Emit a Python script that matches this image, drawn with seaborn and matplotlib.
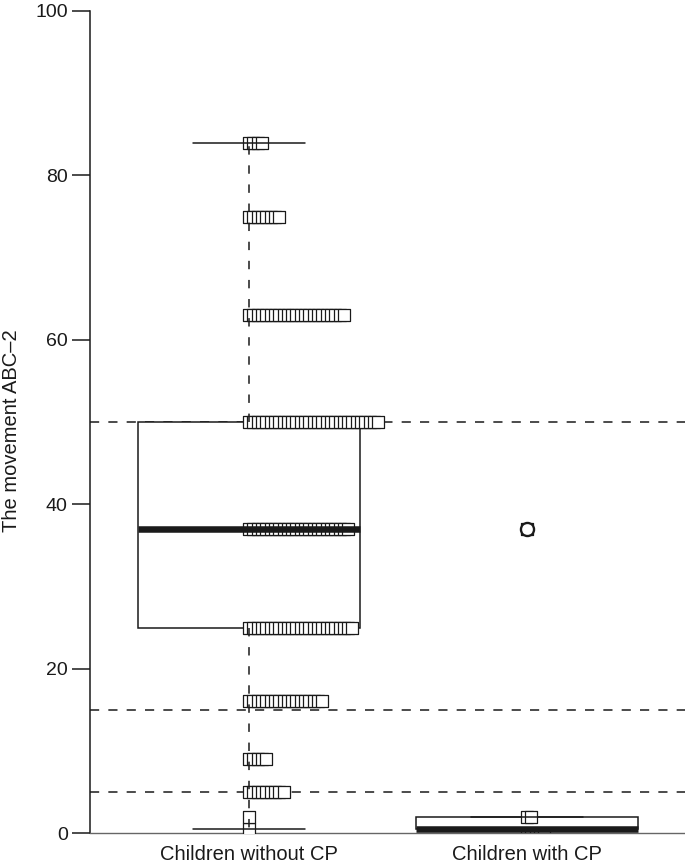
import numpy as np
import pandas as pd
import matplotlib
matplotlib.use("Agg")
import matplotlib.pyplot as plt
import seaborn as sns

# ---- data ----
groups = ["Children without CP", "Children with CP"]
without_cp_scores = [0.5, 2, 5, 9, 16, 25, 37, 50, 63, 75, 84]
without_cp_counts = [1, 1, 9, 5, 18, 25, 24, 31, 23, 8, 4]
with_cp_scores = [0.5, 2, 37]
with_cp_counts = [5, 2, 1]
reference_lines = [5, 15, 50]
y_ticks = [0, 20, 40, 60, 80, 100]
y_label = "The movement ABC\u20132"

sns.set_theme(style="white")
plt.rcParams['font.family'] = ['Liberation Sans', 'DejaVu Sans']

rows = []
for code, (scores, counts) in enumerate([(without_cp_scores, without_cp_counts),
                                          (with_cp_scores, with_cp_counts)]):
    for s, c in zip(scores, counts):
        rows += [(code, s)] * c
df = pd.DataFrame(rows, columns=["pos", "score"])
df["rank"] = df.groupby(["pos", "score"]).cumcount()
step = 0.0155  # horizontal stacking offset (stripchart "stack")
df["xpos"] = df["pos"] + df["rank"] * step

ink = "#1a1a1a"
fig = plt.figure(figsize=(6.85, 8.64), dpi=100)
ax = fig.add_axes([90 / 685, 1 - 833 / 864, 595 / 685, 822 / 864])

for yv in reference_lines:
    ax.axhline(yv, color=ink, lw=1.1, ls=(0, (6, 6)), zorder=0.5)

sns.boxplot(data=df, x="pos", y="score", native_scale=True, orient="v",
            width=0.8, whis=1.5, color="white", linecolor=ink, linewidth=1.1,
            ax=ax,
            medianprops=dict(color=ink, linewidth=4.7, solid_capstyle="butt", zorder=4),
            whiskerprops=dict(color=ink, linewidth=1.1, linestyle=(0, (5.5, 7)), zorder=3.5),
            capprops=dict(color=ink, linewidth=1.1, zorder=3.5),
            flierprops=dict(marker="o", markersize=9.5, markerfacecolor="none",
                            markeredgecolor=ink, markeredgewidth=1.6, zorder=5))

hidden = (df["pos"] == 1) & (df["score"] < 1)
sns.scatterplot(data=df[~hidden], x="xpos", y="score", marker="s", s=72,
                color="white", edgecolor=ink, linewidth=0.9, ax=ax,
                zorder=3, legend=False)
sns.scatterplot(data=df[hidden], x="xpos", y="score", marker="s", s=72,
                color="white", edgecolor=ink, linewidth=0.9, ax=ax,
                zorder=1.5, legend=False)

ax.set_xlim(-0.572, 1.568)
ax.set_ylim(0, 100)
ax.set_yticks(y_ticks)
ax.set_yticklabels([str(t) for t in y_ticks], fontsize=14, color=ink)
ax.set_xticks([0, 1])
ax.set_xticklabels(groups, fontsize=14.5, color=ink)
ax.tick_params(axis="y", direction="out", length=13, width=1.1, color=ink, pad=3, left=True)
ax.tick_params(axis="x", length=0, pad=8.5)
ax.set_xlabel("")
ax.set_ylabel(y_label, fontsize=14.5, color=ink)
ax.yaxis.set_label_coords(-0.116, 0.49)

sns.despine(ax=ax)
ax.spines["left"].set_color(ink)
ax.spines["left"].set_linewidth(1.1)
ax.spines["bottom"].set_color("#666666")
ax.spines["bottom"].set_linewidth(1.0)
ax.grid(False)

fig.savefig("out.png", dpi=100)
